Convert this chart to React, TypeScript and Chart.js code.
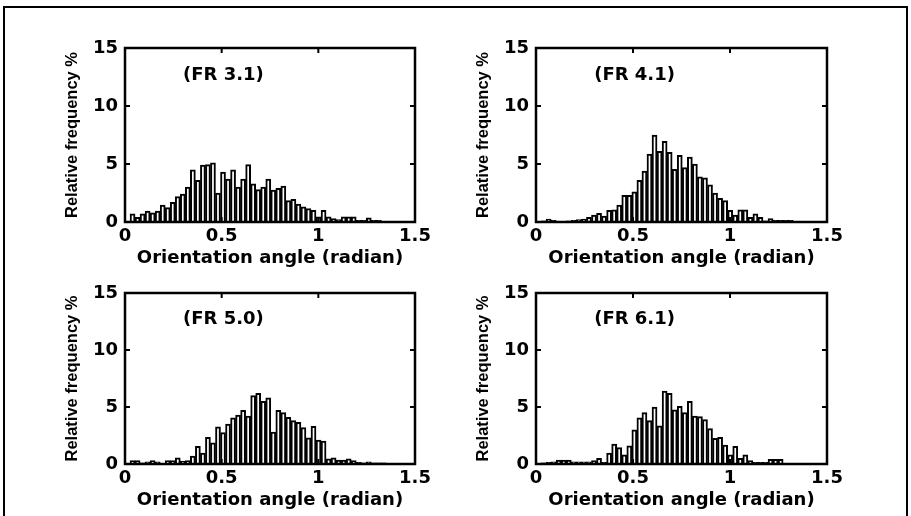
import React, { useEffect, useRef } from 'react';
import { Chart, registerables } from 'chart.js';

Chart.register(...registerables);

// Histogram bin centres (radian)
const binCenters = [
  0.013, 0.039, 0.065, 0.091, 0.117, 0.143, 0.169, 0.195, 0.221, 0.247,
  0.273, 0.299, 0.325, 0.351, 0.377, 0.403, 0.429, 0.455, 0.481, 0.507,
  0.533, 0.559, 0.585, 0.611, 0.637, 0.663, 0.689, 0.715, 0.741, 0.767,
  0.793, 0.819, 0.845, 0.871, 0.897, 0.923, 0.949, 0.975, 1.001, 1.027,
  1.053, 1.079, 1.105, 1.131, 1.157, 1.183, 1.209, 1.235, 1.261, 1.287,
  1.313, 1.339, 1.365, 1.391, 1.417, 1.443, 1.469,
];

// Relative frequency (%) per bin
const freqFR31 = [
  0, 0.7, 0.4, 0.7, 0.95, 0.8, 0.95, 1.45, 1.25, 1.7,
  2.2, 2.4, 3.0, 4.5, 3.6, 4.9, 4.95, 5.1, 2.5, 4.3,
  3.7, 4.5, 3.0, 3.7, 4.95, 3.3, 2.8, 3.0, 3.7, 2.75,
  2.9, 3.1, 1.85, 1.95, 1.55, 1.3, 1.15, 1.0, 0.45, 1.0,
  0.45, 0.3, 0.2, 0.45, 0.45, 0.45, 0.15, 0.15, 0.35, 0.15,
  0.15, 0, 0, 0, 0, 0, 0,
];
const freqFR41 = [
  0, 0.1, 0.25, 0.15, 0.05, 0.05, 0.1, 0.15, 0.2, 0.25,
  0.4, 0.6, 0.75, 0.5, 1.0, 1.05, 1.45, 2.3, 2.3, 2.6,
  3.6, 4.4, 5.85, 7.5, 6.1, 6.95, 6.0, 4.55, 5.75, 4.7,
  5.6, 5.0, 3.9, 3.8, 3.2, 2.5, 2.05, 1.85, 1.0, 0.6,
  1.05, 1.05, 0.4, 0.7, 0.4, 0.1, 0.3, 0.15, 0.15, 0.15,
  0.15, 0, 0, 0, 0, 0, 0,
];
const freqFR50 = [
  0, 0.3, 0.3, 0.1, 0.2, 0.3, 0.2, 0.05, 0.3, 0.3,
  0.55, 0.25, 0.3, 0.7, 1.55, 0.95, 2.35, 1.85, 3.25, 2.75,
  3.5, 4.05, 4.3, 4.7, 4.2, 6.0, 6.2, 5.5, 5.8, 2.8,
  4.7, 4.5, 4.1, 3.8, 3.65, 3.2, 2.3, 3.3, 2.1, 2.0,
  0.45, 0.55, 0.35, 0.35, 0.45, 0.3, 0.15, 0.1, 0.2, 0.1,
  0.1, 0.1, 0.05, 0.05, 0, 0, 0,
];
const freqFR61 = [
  0, 0.1, 0.15, 0.2, 0.35, 0.35, 0.35, 0.2, 0.2, 0.2,
  0.2, 0.3, 0.5, 0.15, 0.95, 1.75, 1.45, 0.8, 1.6, 3.0,
  4.05, 4.5, 3.8, 5.0, 3.35, 6.4, 6.2, 4.75, 5.05, 4.5,
  5.5, 4.2, 4.15, 3.9, 3.1, 2.25, 2.35, 1.65, 0.8, 1.55,
  0.5, 0.8, 0.3, 0.15, 0.15, 0.15, 0.4, 0.4, 0.4, 0,
  0, 0, 0, 0, 0, 0, 0,
];

const panelLabels = ['(FR 3.1)', '(FR 4.1)', '(FR 5.0)', '(FR 6.1)'];
const xTicks = [0, 0.5, 1, 1.5];
const yTicks = [0, 5, 10, 15];
const xTitle = 'Orientation angle (radian)';
const yTitle = 'Relative frequency %';
const labelPos = { x: 0.3, y: 12.65 };

const TICK_FONT = { family: 'DejaVu Sans', size: 18, weight: 'bold' as const };
const XTITLE_FONT = { family: 'DejaVu Sans', size: 18, weight: 'bold' as const };
const YTITLE_FONT = { family: 'Liberation Sans', size: 16.5, weight: 'bold' as const };

const boxPlugin = {
  id: 'box',
  afterDatasetsDraw(chart: any) {
    const { ctx, chartArea: a, scales } = chart;
    const label = chart.options.plugins.box.label;
    ctx.save();
    ctx.strokeStyle = '#000';
    ctx.lineWidth = 2.5;
    ctx.strokeRect(a.left, a.top, a.right - a.left, a.bottom - a.top);
    ctx.lineWidth = 2;
    const len = 5;
    ctx.beginPath();
    xTicks.forEach((v) => {
      const px = scales.x.getPixelForValue(v);
      ctx.moveTo(px, a.bottom);
      ctx.lineTo(px, a.bottom - len);
      ctx.moveTo(px, a.top);
      ctx.lineTo(px, a.top + len);
    });
    yTicks.forEach((v) => {
      const py = scales.y.getPixelForValue(v);
      ctx.moveTo(a.left, py);
      ctx.lineTo(a.left + len, py);
      ctx.moveTo(a.right, py);
      ctx.lineTo(a.right - len, py);
    });
    ctx.stroke();
    ctx.fillStyle = '#000';
    ctx.font = `bold ${TICK_FONT.size}px "${TICK_FONT.family}"`;
    ctx.textAlign = 'left';
    ctx.textBaseline = 'middle';
    ctx.fillText(
      label,
      scales.x.getPixelForValue(labelPos.x),
      scales.y.getPixelForValue(labelPos.y)
    );
    ctx.restore();
  },
};

type PanelProps = {
  values: number[];
  label: string;
  left: number;
  top: number;
  width: number;
  height: number;
  plotTop: number;
  plotRight: number;
  xAxisH: number;
  xTitlePad: number;
};

function Panel(p: PanelProps) {
  const ref = useRef<HTMLCanvasElement>(null);
  useEffect(() => {
    const canvas = ref.current!;
    const chart = new Chart(canvas, {
      type: 'bar',
      data: {
        datasets: [
          {
            data: binCenters.map((x, i) => ({ x, y: p.values[i] })),
            backgroundColor: '#ffffff',
            borderColor: '#000000',
            borderWidth: 2,
            barPercentage: 1,
            categoryPercentage: 1,
          },
        ],
      },
      options: {
        animation: false,
        responsive: false,
        maintainAspectRatio: false,
        devicePixelRatio: 1,
        events: [],
        layout: {
          padding: { left: 0, right: p.width - p.plotRight, top: p.plotTop, bottom: 0 },
        },
        plugins: {
          legend: { display: false },
          tooltip: { enabled: false },
          box: { label: p.label },
        } as any,
        scales: {
          x: {
            type: 'linear',
            min: 0,
            max: 1.5,
            offset: false,
            afterBuildTicks: (s: any) => {
              s.ticks = xTicks.map((v) => ({ value: v }));
            },
            afterFit: (s: any) => {
              s.height = p.xAxisH;
              s.paddingLeft = 0;
              s.paddingRight = 0;
            },
            grid: { display: false, drawTicks: false, offset: false },
            border: { display: false },
            ticks: {
              color: '#000',
              font: TICK_FONT,
              padding: 4,
              maxRotation: 0,
              autoSkip: false,
              callback: (v: any) => String(v),
            },
            title: {
              display: true,
              text: xTitle,
              color: '#000',
              font: XTITLE_FONT,
              padding: { top: 0, bottom: p.xTitlePad },
            },
          },
          y: {
            type: 'linear',
            min: 0,
            max: 15,
            afterBuildTicks: (s: any) => {
              s.ticks = yTicks.map((v) => ({ value: v }));
            },
            afterFit: (s: any) => {
              s.width = 125;
              s.paddingTop = 0;
              s.paddingBottom = 0;
            },
            grid: { display: false, drawTicks: false },
            border: { display: false },
            ticks: {
              color: '#000',
              font: TICK_FONT,
              padding: 7,
              callback: (v: any) => String(v),
            },
            title: {
              display: true,
              text: yTitle,
              color: '#000',
              font: YTITLE_FONT,
              padding: { top: 63, bottom: 0 },
            },
          },
        },
      } as any,
      plugins: [boxPlugin],
    });
    return () => chart.destroy();
  }, []);
  return (
    <canvas
      ref={ref}
      width={p.width}
      height={p.height}
      style={{ position: 'absolute', left: p.left, top: p.top, width: p.width, height: p.height }}
    />
  );
}

export default function App() {
  return (
    <div
      style={{
        position: 'fixed',
        left: 0,
        top: 0,
        width: 911,
        height: 516,
        background: '#fff',
        overflow: 'hidden',
      }}
    >
      <div
        style={{
          position: 'absolute',
          left: 3,
          top: 6,
          width: 901,
          height: 530,
          borderLeft: '2px solid #000',
          borderTop: '2px solid #000',
          borderRight: '2px solid #000',
        }}
      />
      <Panel values={freqFR31} label={panelLabels[0]} left={0} top={0} width={440} height={275}
        plotTop={48} plotRight={415} xAxisH={53} xTitlePad={6} />
      <Panel values={freqFR41} label={panelLabels[1]} left={411} top={0} width={440} height={275}
        plotTop={48} plotRight={416} xAxisH={53} xTitlePad={6} />
      <Panel values={freqFR50} label={panelLabels[2]} left={0} top={245} width={440} height={271}
        plotTop={48} plotRight={415} xAxisH={52} xTitlePad={5} />
      <Panel values={freqFR61} label={panelLabels[3]} left={411} top={245} width={440} height={271}
        plotTop={48} plotRight={416} xAxisH={52} xTitlePad={5} />
    </div>
  );
}
